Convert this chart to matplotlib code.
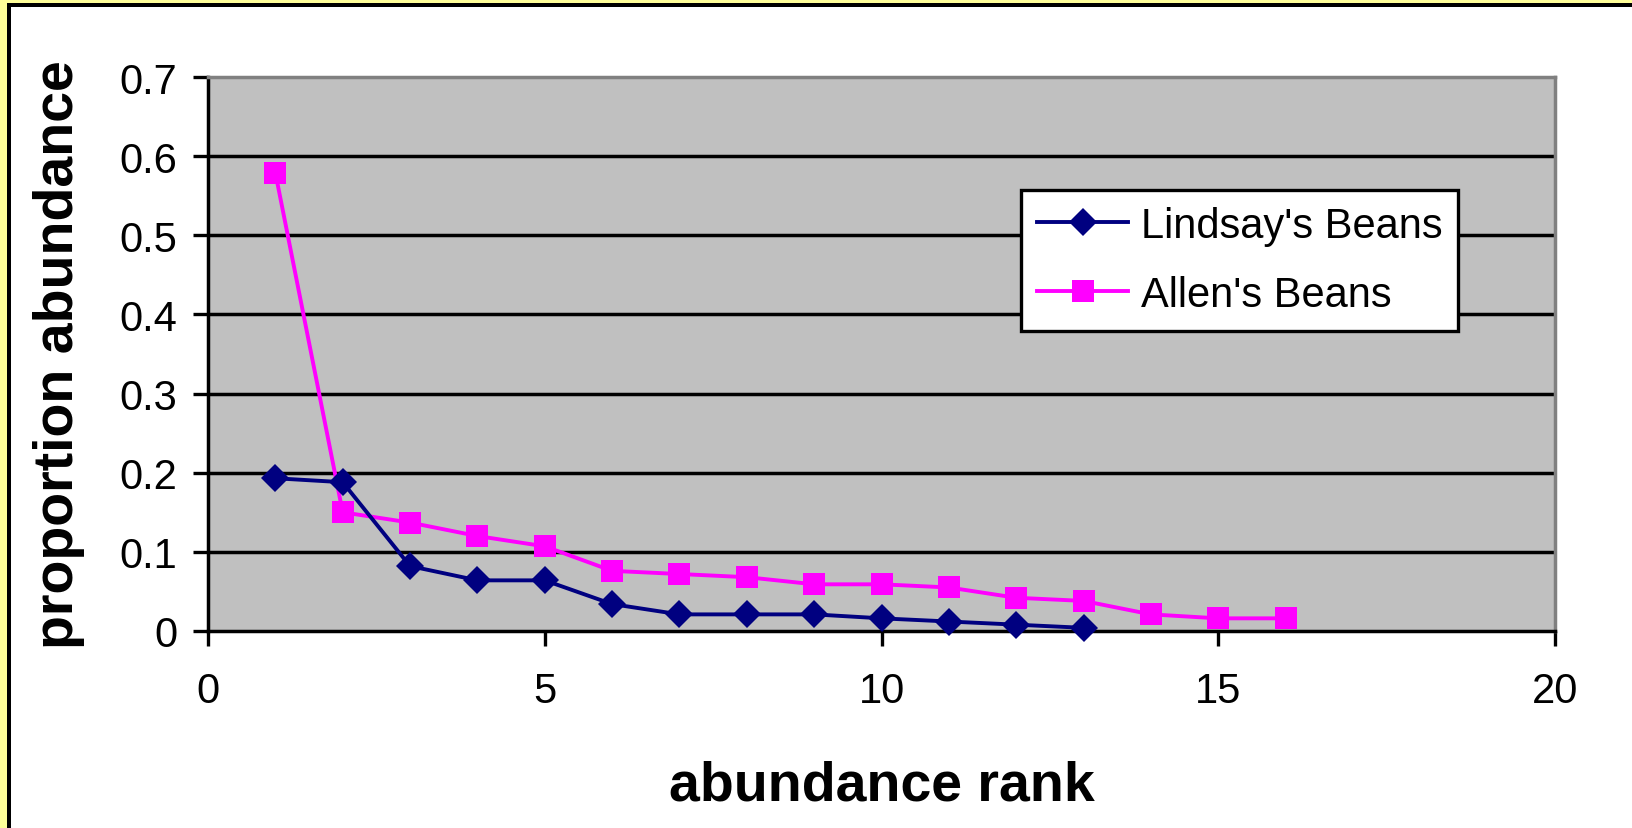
import matplotlib
matplotlib.use('Agg')
import matplotlib.pyplot as plt
from matplotlib.patches import Rectangle

plt.rcParams['font.family'] = ['Liberation Sans', 'DejaVu Sans']

# abundance rank vs proportion abundance
lindsay_rank = [1, 2, 3, 4, 5, 6, 7, 8, 9, 10, 11, 12, 13]
lindsay_prop = [0.193, 0.188, 0.082, 0.064, 0.064, 0.034, 0.021, 0.021, 0.021,
                0.016, 0.012, 0.008, 0.004]
allen_rank = [1, 2, 3, 4, 5, 6, 7, 8, 9, 10, 11, 12, 13, 14, 15, 16]
allen_prop = [0.579, 0.150, 0.137, 0.120, 0.107, 0.076, 0.072, 0.068, 0.059,
              0.059, 0.055, 0.042, 0.038, 0.021, 0.016, 0.016]

x_ticks = [0, 5, 10, 15, 20]
y_ticks = [0, 0.1, 0.2, 0.3, 0.4, 0.5, 0.6, 0.7]
y_tick_labels = ['0', '0.1', '0.2', '0.3', '0.4', '0.5', '0.6', '0.7']

W, H = 1633, 829
fig = plt.figure(figsize=(W / 100, H / 100), dpi=100)
fig.patch.set_facecolor('white')

# yellow strips on left/top, black frame lines inside them (image is cropped)
fig.patches.append(Rectangle((0, 0), 7 / W, 1, transform=fig.transFigure,
                             facecolor='#FFFF99', edgecolor='none', zorder=-6))
fig.patches.append(Rectangle((0, 1 - 4 / H), 1, 4 / H, transform=fig.transFigure,
                             facecolor='#FFFF99', edgecolor='none', zorder=-6))
fig.patches.append(Rectangle((7 / W, 0), 4 / W, 1 - 4 / H, transform=fig.transFigure,
                             facecolor='black', edgecolor='none', zorder=-5))
fig.patches.append(Rectangle((7 / W, 1 - 7.5 / H), 1, 3.5 / H, transform=fig.transFigure,
                             facecolor='black', edgecolor='none', zorder=-5))

ax = fig.add_axes([208 / W, 1 - 632 / H, (1555 - 208) / W, (632 - 78) / H])
ax.set_facecolor('#C0C0C0')

for y in y_ticks[1:-1]:
    ax.axhline(y, color='black', linewidth=2.5, zorder=1)

ax.plot(lindsay_rank, lindsay_prop, color='#000080', linewidth=2.8,
        marker='D', markersize=14.5, markeredgewidth=0, label="Lindsay's Beans",
        zorder=3, clip_on=False)
ax.plot(allen_rank, allen_prop, color='#FF00FF', linewidth=2.8,
        marker='s', markersize=15.5, markeredgewidth=0, label="Allen's Beans",
        zorder=2, clip_on=False)

ax.set_xlim(0, 20)
ax.set_ylim(0, 0.7)
ax.set_xticks(x_ticks)
ax.set_yticks(y_ticks)
ax.set_yticklabels(y_tick_labels)

for side in ['top', 'right']:
    ax.spines[side].set_color('#808080')
    ax.spines[side].set_linewidth(2.5)
for side in ['left', 'bottom']:
    ax.spines[side].set_color('black')
    ax.spines[side].set_linewidth(2.5)

ax.tick_params(axis='both', direction='out', length=11, width=2.4,
               labelsize=30, color='black')
ax.tick_params(axis='x', pad=18)
ax.tick_params(axis='y', pad=11)

ax.set_xlabel('abundance rank', fontsize=40, fontweight='bold', labelpad=35)
ax.set_ylabel('proportion abundance', fontsize=40, fontweight='bold', labelpad=25)

leg = ax.legend(loc='upper left', bbox_to_anchor=(1021 / W, 1 - 191 / H),
                bbox_transform=fig.transFigure, fontsize=30, frameon=True,
                fancybox=False, edgecolor='black', framealpha=1,
                borderaxespad=0, handlelength=2.2, handletextpad=0.3,
                labelspacing=0.7, borderpad=0.38)
leg.get_frame().set_linewidth(2.4)

fig.savefig('out.png', dpi=100, facecolor=fig.get_facecolor())
